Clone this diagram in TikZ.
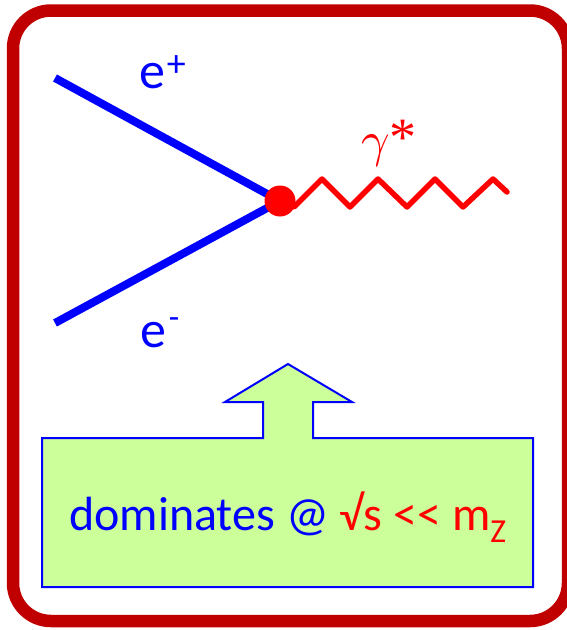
\documentclass[tikz,border=0pt]{standalone}
\usepackage{fontspec}
\setmainfont{Carlito}
\newfontfamily\serifgam{Liberation Serif}
\definecolor{framered}{HTML}{C00000}
\definecolor{boxgreen}{HTML}{CCFF99}
\begin{document}
\begin{tikzpicture}[x=1pt,y=-1pt,
  fermion/.style={blue, line width=8pt},
  photon/.style={red, line width=5.5pt, line join=round, line cap=round},
  lbl/.style={inner sep=0pt, outer sep=0pt}]
\useasboundingbox (0,0) rectangle (566,630);
\draw[framered, line width=12.5pt, rounded corners=38pt] (13,10.5) rectangle (568,621);
% vertex and legs
\coordinate (vc) at (280,201);
\coordinate (a) at (55,78);
\coordinate (b) at (55,323);
\draw[fermion] (a) -- (vc);
\draw[fermion] (b) -- (vc);
\coordinate (pend) at (507,192);
\draw[photon] (vc) -- (294,207) -- (322,179) -- (350,207) -- (378,179) -- (407,207) -- (435,179) -- (463,207) -- (493,179) -- (pend);
\node[circle, fill=red, minimum size=31pt, inner sep=0pt] (v) at (vc) {};
% labels
\node[lbl, anchor=base west, blue, font=\fontsize{52}{52}\selectfont] (ep) at (139,88) {e\kern2pt\raisebox{12pt}{\fontsize{38}{38}\selectfont +}};
\node[lbl, anchor=base west, blue, font=\fontsize{52}{52}\selectfont] (em) at (140,347) {e\kern3pt\raisebox{19pt}{\fontsize{34}{34}\selectfont -}};
\node[lbl, anchor=base west, red] (gam) at (361,156) {\scalebox{5}{$\gamma$}};
\node[lbl, anchor=base west, red, font=\serifgam\fontsize{54}{54}\selectfont] (star) at (389,155) {*};
% arrow box
\draw[blue, line width=2pt, fill=boxgreen] (42,438) -- (263,438) -- (263,402) -- (225,402) -- (288,364) -- (352,402) -- (313,402) -- (313,438) -- (533,438) -- (533,587) -- (42,587) -- cycle;
\node[lbl, anchor=base, font=\fontsize{48}{48}\selectfont] (txt) at (288,530) {\textcolor{blue}{dominates @ }\textcolor{red}{√s <{}< m\textsubscript{Z}}};
\end{tikzpicture}
\end{document}
